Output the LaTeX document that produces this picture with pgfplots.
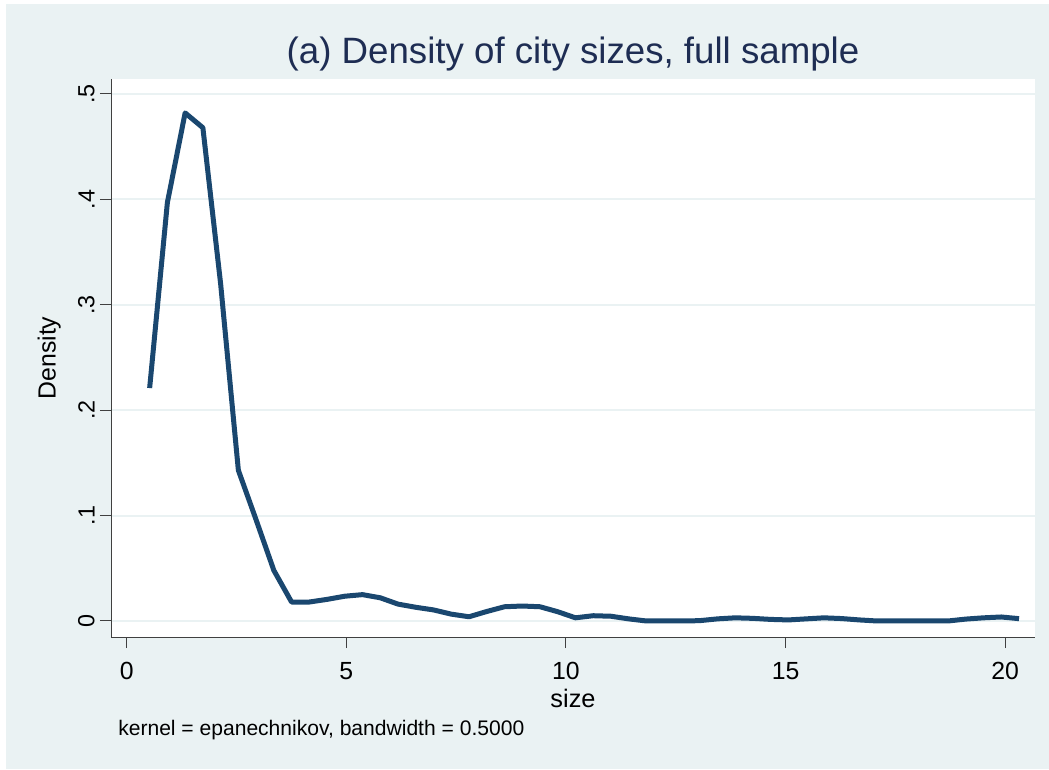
\documentclass[border=0pt]{standalone}
\usepackage{fontspec}
\setmainfont{Liberation Sans}
\usepackage{pgfplots}
\pgfplotsset{compat=1.18}
\definecolor{bgc}{RGB}{234,242,243}
\definecolor{navyc}{RGB}{26,71,111}
\definecolor{titlec}{RGB}{30,45,83}
\pgfplotstableread{
x y
0.520 0.221
0.924 0.397
1.328 0.482
1.732 0.468
2.136 0.320
2.540 0.143
2.944 0.096
3.348 0.048
3.752 0.018
4.156 0.018
4.560 0.0205
4.964 0.0235
5.368 0.025
5.772 0.022
6.176 0.016
6.580 0.013
6.984 0.0105
7.388 0.0065
7.792 0.004
8.196 0.009
8.600 0.0135
9.004 0.0142
9.408 0.0135
9.812 0.0088
10.216 0.003
10.620 0.005
11.024 0.0045
11.428 0.002
11.832 0.0
12.236 0.0
12.640 0.0
13.044 0.0003
13.448 0.002
13.852 0.003
14.256 0.0025
14.660 0.0015
15.064 0.001
15.468 0.002
15.872 0.003
16.276 0.0023
16.680 0.001
17.084 0.0
17.488 0.0
17.892 0.0
18.296 0.0
18.700 0.0
19.104 0.0018
19.508 0.003
19.912 0.0038
20.316 0.0022
}\densdata
\begin{document}
\begin{tikzpicture}[x=1pt,y=1pt]
\fill[white] (0,0) rectangle (786.75,576.75);
\fill[bgc] (4.5,0) rectangle (786.75,573.75);
\begin{axis}[
  at={(83.25pt,99pt)}, anchor=south west,
  scale only axis, width=693pt, height=418.5pt,
  xmin=-0.36, xmax=20.68, ymin=-0.0152, ymax=0.5142,
  axis x line*=bottom, axis y line*=left,
  axis line style={-, black!75, line width=0.75pt},
  axis background/.style={fill=white},
  clip=false,
  xtick={0,5,10,15,20}, xticklabels={0,5,10,15,20},
  ytick={0,0.1,0.2,0.3,0.4,0.5}, yticklabels={0,.1,.2,.3,.4,.5},
  tick align=outside, major tick length=8.25pt,
  tick style={black!75, line width=0.75pt},
  ymajorgrids, grid style={bgc, line width=1.5pt},
  xticklabel style={font=\fontsize{18.6}{22}\selectfont, text=black, yshift=-7pt},
  yticklabel style={xshift=-0.5pt, font=\fontsize{17.5}{21}\selectfont, text=black, rotate=90, anchor=south},
  title={(a) Density of city sizes, full sample},
  title style={at={(axis description cs:0.5,1.048)}, anchor=center, yshift=-7pt, font=\fontsize{27.5}{32}\selectfont, text=titlec},
  xlabel={size},
  xlabel style={at={(axis description cs:0.5,-0.111)}, anchor=center, font=\fontsize{19}{23}\selectfont},
  ylabel={Density},
  ylabel style={at={(axis description cs:-0.067,0.5)}, anchor=center, font=\fontsize{18.6}{22}\selectfont},
]
\addplot[navyc, line width=3.75pt, line join=round] table[x=x, y=y] {\densdata};
\node[anchor=west, font=\fontsize{15.8}{19}\selectfont, inner sep=0pt] at (rel axis cs:0.0076,-0.167) {kernel = epanechnikov, bandwidth = 0.5000};
\end{axis}
\end{tikzpicture}
\end{document}
